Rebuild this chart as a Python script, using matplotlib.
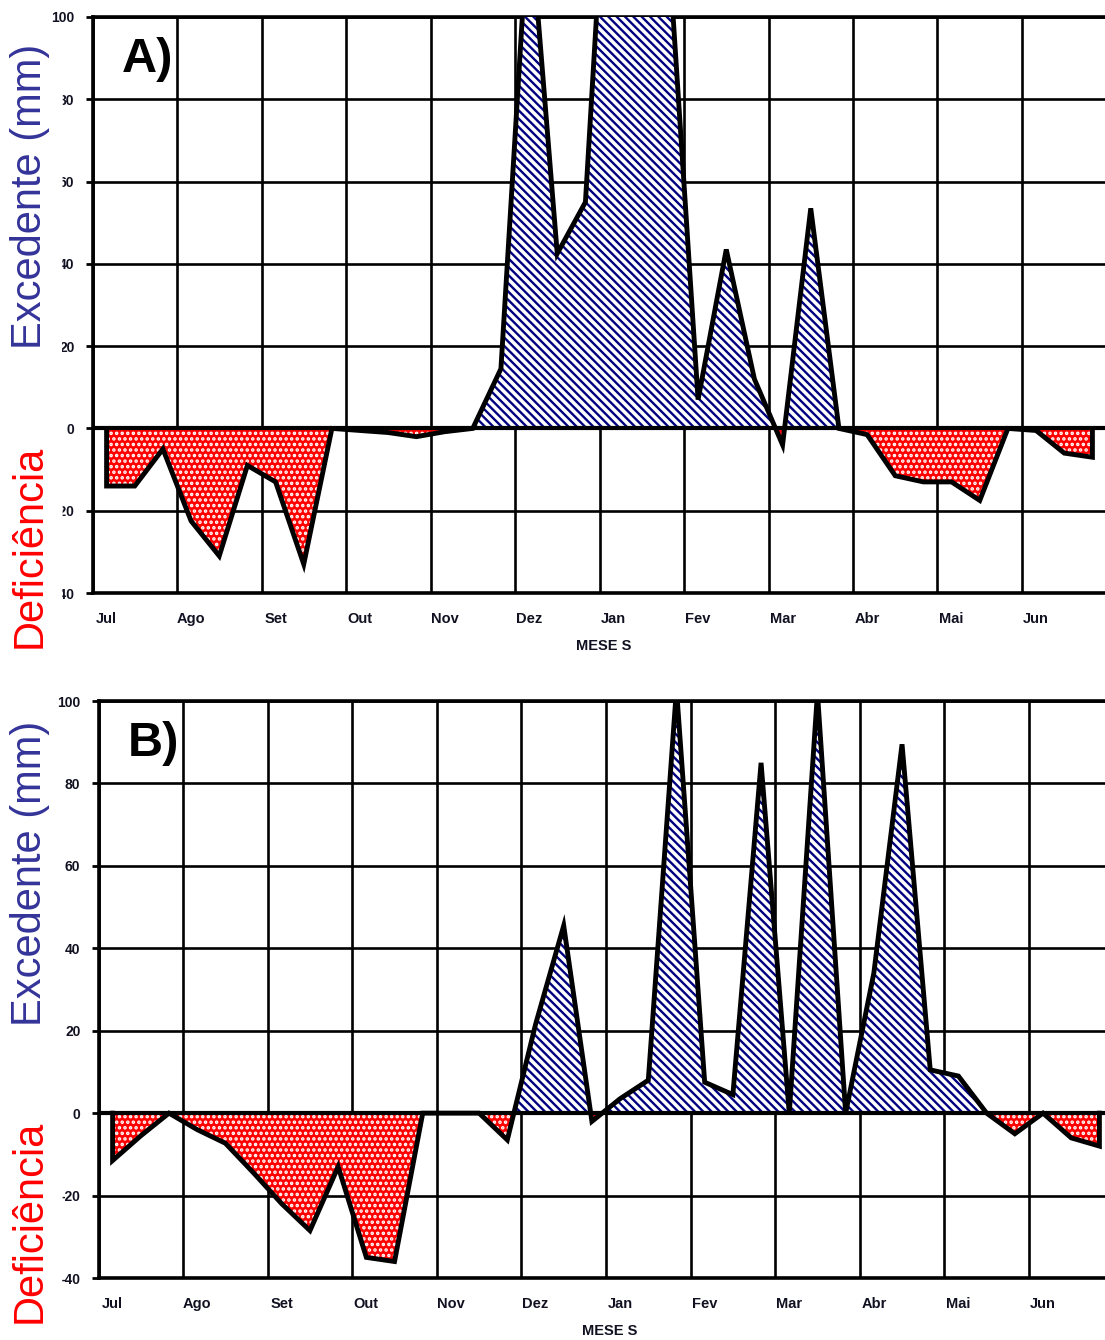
import numpy as np
import matplotlib
matplotlib.use("Agg")
import matplotlib.pyplot as plt

# --- data -------------------------------------------------------------
months = ["Jul", "Ago", "Set", "Out", "Nov", "Dez",
          "Jan", "Fev", "Mar", "Abr", "Mai", "Jun"]
y_ticks = [-40, -20, 0, 20, 40, 60, 80, 100]

# decendial water balance (mm): > 0 excedente, < 0 deficiência
balance_a = [-14, -14, -5, -22.5, -31, -9, -13, -33, 0,
             -0.5, -1, -2, -0.8, 0, 14.5, 127, 42.5, 55,
             170, 150, 112, 7, 43.5, 12, -4, 53.5, 0,
             -1.5, -11.5, -13, -13, -17.5, 0, -0.5, -6, -7]
balance_b = [-11.5, -5.5, 0, -4, -7.3, -14.5, -22, -28.5, -13,
             -35, -36, 0, 0, 0, -6.5, 21.5, 45.5, -2,
             3.5, 8, 103, 7.5, 4.5, 85, 0, 102, 0,
             34, 89.5, 10.5, 9, 0, -5, 0, -6, -8]

# --- style ------------------------------------------------------------
plt.rcParams["font.family"] = ["Liberation Sans", "DejaVu Sans"]
plt.rcParams["hatch.linewidth"] = 1.7

NAVY = "#000080"
RED = "#ff0000"
LABEL_BLUE = "#333399"

W, H = 1105, 1340
fig = plt.figure(figsize=(W / 100, H / 100), dpi=100)


def px_axes(left, top, right, bottom):
    return fig.add_axes([left / W, 1 - bottom / H, (right - left) / W, (bottom - top) / H])


def draw_panel(ax, values, tag):
    vals = np.asarray(values, dtype=float)
    x = np.arange(len(vals)) + 0.5
    n_months = len(months)

    ax.set_xlim(0, 3 * n_months)
    ax.set_ylim(-40, 100)

    # excedente (hatched navy) and deficiência (red dotted)
    ax.fill_between(x, 0, vals, where=vals >= 0, interpolate=True,
                    facecolor="white", edgecolor=NAVY, hatch="\\\\\\\\",
                    linewidth=0, zorder=3)
    ax.fill_between(x, 0, vals, where=vals <= 0, interpolate=True,
                    facecolor=RED, edgecolor="white", hatch="...",
                    linewidth=0, zorder=3)

    # outline of the area
    ax.plot(np.r_[x[0], x, x[-1]], np.r_[0, vals, 0], color="black",
            lw=3.5, solid_joinstyle="miter", zorder=5)
    ax.axhline(0, color="black", lw=3.0, zorder=4)

    # grid
    ax.set_xticks(np.arange(0, 3 * n_months + 1, 3))
    ax.set_xticklabels([])
    ax.set_xticks(np.arange(n_months) * 3 + 0.5, minor=True)
    ax.set_xticklabels(months, minor=True, fontsize=10.5, fontweight="bold",
                       color="#111122")
    ax.tick_params(axis="x", which="both", length=0)
    ax.tick_params(axis="x", which="minor", pad=14)
    ax.set_yticks(y_ticks)
    ax.set_yticklabels([str(v) for v in y_ticks], fontsize=10, fontweight="bold",
                       color="#111122")
    ax.tick_params(axis="y", length=5, width=2, pad=8)
    ax.grid(True, which="major", color="black", lw=1.9)
    ax.set_axisbelow(True)
    for side in ["top", "left", "bottom", "right"]:
        ax.spines[side].set_linewidth(2.6)
    ax.set_xlabel("MESE S", fontsize=10.5, fontweight="bold", color="#111122",
                  labelpad=8)
    ax.xaxis.set_label_coords(0.504, -0.08)

    ax.text(0.029, 0.965, tag, transform=ax.transAxes, fontsize=35,
            fontweight="bold", ha="left", va="top", zorder=6)


ax_a = px_axes(92.5, 17, 1106.5, 593)
draw_panel(ax_a, balance_a, "A)")
ax_b = px_axes(98.5, 701, 1113.5, 1278)
draw_panel(ax_b, balance_b, "B)")

# side labels
box = dict(boxstyle="square,pad=0.3", facecolor="white", edgecolor="none")
for cy_exc, cy_def, cx in [(196, 546, 30), (873, 1221, 30)]:
    fig.text(cx / W, 1 - cy_exc / H, "Excedente (mm)", rotation=90,
             ha="center", va="center", fontsize=30, color=LABEL_BLUE, bbox=box)
    fig.text(cx / W, 1 - cy_def / H, "Deficiência", rotation=90,
             ha="center", va="center", fontsize=30, color=RED, bbox=box)

fig.savefig("out.png", dpi=100)
